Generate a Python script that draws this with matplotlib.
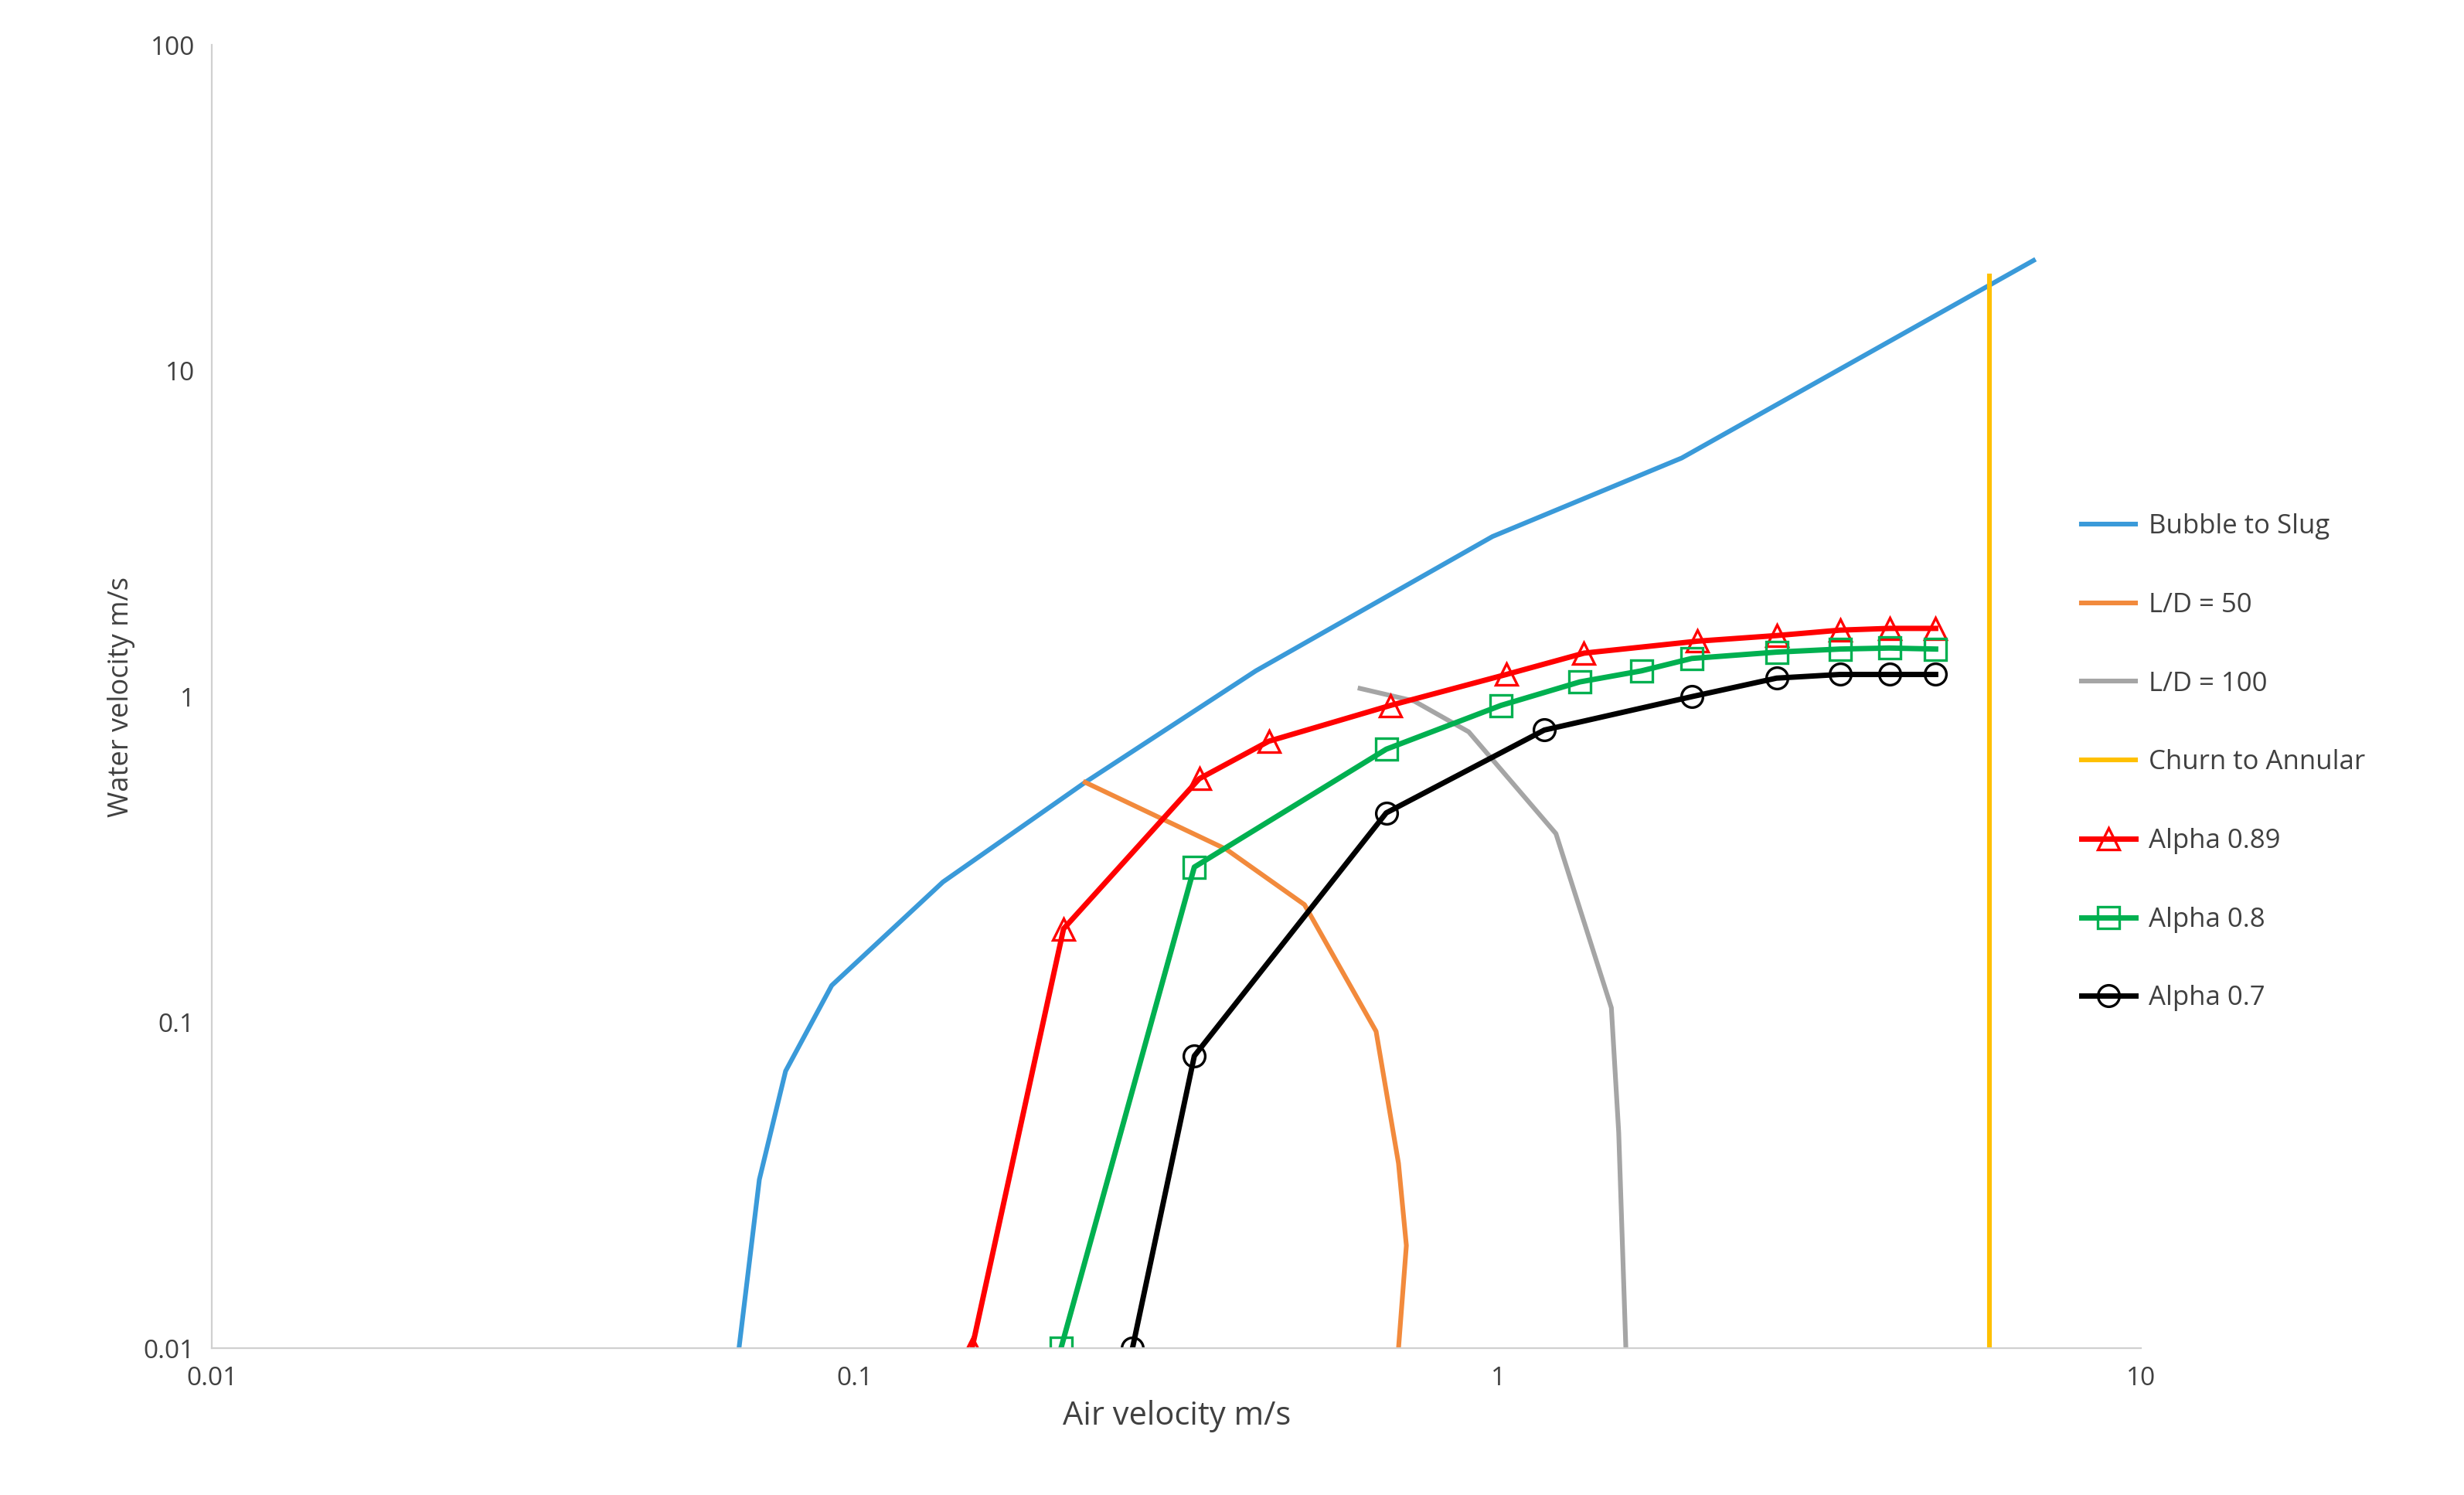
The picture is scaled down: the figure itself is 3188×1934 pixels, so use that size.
import matplotlib
matplotlib.use("Agg")
from matplotlib import pyplot as plt

plt.rcParams["font.family"] = ["Open Sans", "DejaVu Sans"]

# values
bubble_x = [0.066, 0.071, 0.078, 0.092, 0.137, 0.228, 0.42, 0.98, 1.93, 6.8]
bubble_y = [0.01, 0.033, 0.071, 0.13, 0.27, 0.546, 1.2, 3.1, 5.4, 21.8]

ld50_x = [0.228, 0.378, 0.50, 0.646, 0.70, 0.72, 0.70]
ld50_y = [0.546, 0.34, 0.23, 0.094, 0.037, 0.0207, 0.01]

ld100_x = [0.61, 0.74, 0.90, 1.23, 1.50, 1.54, 1.58]
ld100_y = [1.06, 0.97, 0.78, 0.38, 0.111, 0.046, 0.01]

churn_x = [5.8, 5.8]
churn_y = [0.01, 19.5]

a89_x = [0.152, 0.211, 0.343, 0.44, 0.68, 1.03, 1.36, 2.04, 2.71, 3.4, 4.06, 4.79]
a89_y = [0.01, 0.194, 0.56, 0.73, 0.94, 1.17, 1.36, 1.48, 1.54, 1.60, 1.62, 1.62]

a80_x = [0.209, 0.337, 0.67, 1.01, 1.34, 1.67, 2.0, 2.71, 3.4, 4.06, 4.79]
a80_y = [0.01, 0.30, 0.69, 0.94, 1.11, 1.20, 1.31, 1.37, 1.40, 1.41, 1.40]

a70_x = [0.27, 0.337, 0.67, 1.18, 2.0, 2.71, 3.4, 4.06, 4.79]
a70_y = [0.01, 0.079, 0.44, 0.79, 1.0, 1.14, 1.17, 1.17, 1.17]

fig = plt.figure(figsize=(15.94, 9.67), dpi=200)
ax = fig.add_axes([0.086, 0.098, 0.783, 0.872])

ax.plot(bubble_x, bubble_y, color="#3a9ad9", lw=2.2, label="Bubble to Slug")
ax.plot(ld50_x, ld50_y, color="#f28a3c", lw=2.2, label="L/D = 50")
ax.plot(ld100_x, ld100_y, color="#a5a5a5", lw=2.2, label="L/D = 100")
ax.plot(churn_x, churn_y, color="#ffc000", lw=2.2, label="Churn to Annular")
ax.plot(a89_x, a89_y, color="#ff0000", lw=2.5, marker="^", ms=10,
        mfc="none", mec="#ff0000", mew=1.2, label="Alpha 0.89")
ax.plot(a80_x, a80_y, color="#00b050", lw=2.5, marker="s", ms=10,
        mfc="none", mec="#00b050", mew=1.2, label="Alpha 0.8")
ax.plot(a70_x, a70_y, color="black", lw=2.5, marker="o", ms=10,
        mfc="none", mec="black", mew=1.2, label="Alpha 0.7")

ax.set_xscale("log")
ax.set_yscale("log")
ax.set_xlim(0.01, 10)
ax.set_ylim(0.01, 100)
ax.set_xticks([0.01, 0.1, 1, 10])
ax.set_xticklabels(["0.01", "0.1", "1", "10"])
ax.set_yticks([0.01, 0.1, 1, 10, 100])
ax.set_yticklabels(["0.01", "0.1", "1", "10", "100"])
ax.minorticks_off()
ax.tick_params(length=0, labelsize=12, colors="#404040", pad=8)
for s in ["top", "right"]:
    ax.spines[s].set_visible(False)
for s in ["left", "bottom"]:
    ax.spines[s].set_color("#d0d0d0")

ax.set_xlabel("Air velocity m/s", fontsize=15, color="#404040")
ax.set_ylabel("Water velocity m/s", fontsize=13, color="#404040")

fig.legend(*ax.get_legend_handles_labels(), loc="center left",
           bbox_to_anchor=(0.835, 0.49), frameon=False, fontsize=12.5,
           labelspacing=1.95, handlelength=2.0, handletextpad=0.5,
           labelcolor="#404040")

fig.savefig("out.png", dpi=200)
